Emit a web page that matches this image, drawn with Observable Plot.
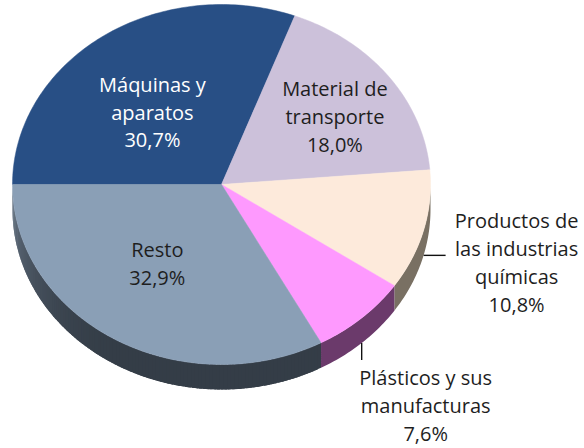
<!DOCTYPE html>
<html><head><meta charset="utf-8">
<script src="https://cdn.jsdelivr.net/npm/d3@7"></script>
<script src="https://cdn.jsdelivr.net/npm/@observablehq/plot@0.6"></script>
<style>body{margin:0;background:#fff}</style>
</head><body><div id="chart"></div>
<script>
// ---- data ----
const categories = ["Máquinas y aparatos","Material de transporte","Productos de las industrias químicas","Plásticos y sus manufacturas","Resto"];
const labelLines = [["Máquinas y","aparatos"],["Material de","transporte"],["Productos de","las industrias","químicas"],["Plásticos y sus","manufacturas"],["Resto"]];
const shares = [30.7, 18.0, 10.8, 7.6, 32.9];
const topColors = ["#284f85","#ccc1da","#fdeadb","#fe99fe","#8a9fb6"];
const sideColors = ["#1a3558","#8a8296","#797063","#6b3a6b","#343d47"];
const sideLight = [null,null,null,null,"#6a7888"];

// ---- layout (style) ----
const W = 584, H = 448, cx = 221, cy = 184, rx = 209, ry = 180, depth = 25;
const labelLayout = [
  {fx:0.58, fy:0.50, fill:"#ffffff"},
  {fx:0.68, fy:0.64, fill:"#1e1e1e"},
  {outside:true, ldx:22, ldy:0, tdx:71, tdy:6, fill:"#1e1e1e"},
  {outside:true, ldx:0, ldy:17, tdx:64, tdy:44, fill:"#1e1e1e"},
  {fx:0.60, fy:0.50, fill:"#1e1e1e"}
];

const arcs = d3.pie().sort(null).startAngle(-Math.PI/2).endAngle(1.5*Math.PI)(shares);
const px = (a, f = 1) => cx + rx * f * Math.sin(a);
const py = (a, f = 1) => cy - ry * f * Math.cos(a);
const step = Math.PI / 180;

// top faces
const topRows = [];
arcs.forEach((d, i) => {
  const id = "t" + i, c = topColors[i];
  topRows.push({id, x: cx, y: cy, c});
  const n = Math.max(2, Math.ceil((d.endAngle - d.startAngle) / step));
  for (let k = 0; k <= n; k++) {
    const a = d.startAngle + (d.endAngle - d.startAngle) * k / n;
    topRows.push({id, x: px(a), y: py(a), c});
  }
  topRows.push({id, x: cx, y: cy, c});
});

// side faces (front half only: angle between 90° and 270°)
const sideRows = [];
function sidePoly(id, s, e, c) {
  const m2 = Math.max(2, Math.ceil((e - s) / step));
  for (let j = 0; j <= m2; j++) { const a = s + (e - s) * j / m2; sideRows.push({id, x: px(a), y: py(a), c}); }
  for (let j = m2; j >= 0; j--) { const a = s + (e - s) * j / m2; sideRows.push({id, x: px(a), y: py(a) + depth, c}); }
}
arcs.forEach((d, i) => {
  const a0 = Math.max(d.startAngle, Math.PI/2), a1 = Math.min(d.endAngle, 1.5*Math.PI);
  if (a1 <= a0) return;
  if (!sideLight[i]) { sidePoly("s" + i, a0, a1, sideColors[i]); return; }
  const n = Math.ceil((a1 - a0) / step);
  for (let k = 0; k < n; k++) {
    const s = a0 + (a1 - a0) * k / n, e = Math.min(a1, a0 + (a1 - a0) * (k + 1.8) / n);
    const m = (s + e) / 2;
    const t = Math.max(0, Math.min(1, (m - 1.15*Math.PI) / (0.35*Math.PI)));
    sidePoly("s" + i + "_" + k, s, e, d3.interpolateRgb(sideColors[i], sideLight[i])(t * t));
  }
});

// labels and leaders
const fmt = v => v.toFixed(1).replace(".", ",") + "%";
const labels = [], leaders = [];
arcs.forEach((d, i) => {
  const L = labelLayout[i];
  const m = (d.startAngle + d.endAngle) / 2;
  const text = labelLines[i].concat([fmt(shares[i])]).join("\n");
  if (L.outside) {
    const x1 = px(m), y1 = py(m) + depth;
    const x2 = x1 + L.ldx, y2 = y1 + L.ldy;
    leaders.push({x1, y1, x2, y2});
    labels.push({x: x2 + L.tdx, y: y2 + L.tdy, text, fill: L.fill});
  } else {
    labels.push({x: cx + rx * L.fx * Math.sin(m), y: cy - ry * L.fy * Math.cos(m), text, fill: L.fill});
  }
});

const chart = Plot.plot({
  width: W, height: H, margin: 0,
  x: {domain: [0, W], range: [0, W], axis: null},
  y: {domain: [0, H], range: [0, H], axis: null},
  color: {type: "identity"},
  style: {background: "#fff"},
  marks: [
    Plot.line(sideRows, {x: "x", y: "y", z: "id", fill: "c", stroke: "none", curve: "linear"}),
    Plot.line(topRows, {x: "x", y: "y", z: "id", fill: "c", stroke: "c", strokeWidth: 0.5, curve: "linear"}),
    Plot.link(leaders, {x1: "x1", y1: "y1", x2: "x2", y2: "y2", stroke: "#111", strokeWidth: 1.4}),
    Plot.text(labels, {x: "x", y: "y", text: "text", fill: "fill", fontSize: 20, lineHeight: 1.4,
      fontFamily: "'Open Sans', sans-serif", textAnchor: "middle", lineAnchor: "middle"})
  ]
});
document.getElementById("chart").appendChild(chart);
</script>
</body></html>
